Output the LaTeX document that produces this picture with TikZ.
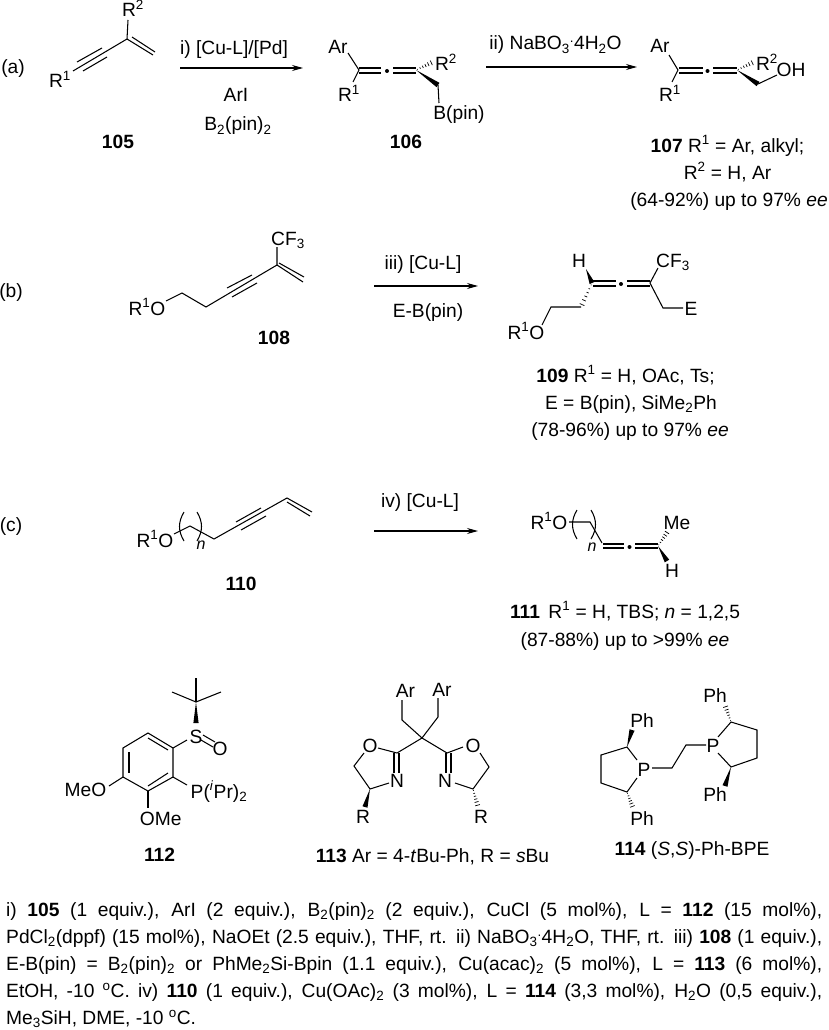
\documentclass[tikz,border=0pt]{standalone}
\usepackage{fontspec}
\setmainfont{Liberation Sans}
\usetikzlibrary{arrows.meta,calc}
\newcommand{\Up}[1]{\textsuperscript{#1}}
\newcommand{\Dn}[1]{\textsubscript{#1}}
\newcommand{\wedgebond}[2]{\fill ($(#1)$) -- ($(#2)!2.6pt!90:(#1)$) -- ($(#2)!2.6pt!-90:(#1)$) -- cycle;}
\newcommand{\hashbond}[2]{\foreach \t/\w in {0.08/0.4,0.24/0.8,0.4/1.2,0.56/1.6,0.72/2.0,0.9/2.5}
	\draw[line width=0.7pt] ($(#1)!\t!(#2)!\w pt!90:(#2)$) -- ($(#1)!\t!(#2)!\w pt!-90:(#2)$);}
\begin{document}
\begin{tikzpicture}[x=1pt,y=-1pt,
				bond/.style={line width=1.05pt},
				rxn/.style={line width=1.05pt,-{Stealth[length=11pt,width=6pt]}},
				lab/.style={anchor=base,inner sep=0pt,font=\fontsize{19.2}{22}\selectfont},
				note/.style={anchor=north west,inner sep=0pt,text width=816pt,align=justify,
					font=\fontsize{19.2}{27}\selectfont}]
			\useasboundingbox (0,0) rectangle (829,1030);
			% (a)
			\node [lab] (tagA) at (13,74) {(a)};
			\node [lab] (r1A) at (60,88) {R\Up{1}};
			\node [lab] (r2A) at (133,17) {R\Up{2}};
			\node [lab] (n105) at (118,149) {\textbf{105}};
			\coordinate (a1) at (73,71); \coordinate (a2) at (127,39); \coordinate (a3) at (128,20);
			\coordinate (a4) at (153,55); \coordinate (a5) at (132,37); \coordinate (a6) at (155,52);
			\coordinate (a7) at (77,62); \coordinate (a8) at (102,48); \coordinate (a9) at (83,71); \coordinate (a10) at (107,57);
			\draw [bond] (a1) -- (a2) -- (a3);
			\draw [bond] (a2) -- (a4);
			\draw [bond] (a5) -- (a6);
			\draw [bond] (a7) -- (a8);
			\draw [bond] (a9) -- (a10);
			\coordinate (arAs) at (180,68); \coordinate (arAe) at (303,68);
			\draw [rxn] (arAs) -- (arAe);
			\node [lab] (catA) at (234,55) {i) [Cu-L]/[Pd]};
			\node [lab] (ariA) at (236,102) {ArI};
			\node [lab] (bpinA) at (238,131) {B\Dn{2}(pin)\Dn{2}};
			% 106
			\node [lab] (ar6) at (338,54) {Ar};
			\node [lab] (r16) at (349,102) {R\Up{1}};
			\node [lab] (r26) at (446,71) {R\Up{2}};
			\node [lab] (bp6) at (459,120) {B(pin)};
			\node [lab] (n106) at (406,149) {\textbf{106}};
			\coordinate (b1) at (359,70); \coordinate (b2) at (348,53); \coordinate (b3) at (353,82);
			\coordinate (b4) at (359,68); \coordinate (b5) at (381,68); \coordinate (b6) at (359,73); \coordinate (b7) at (381,73);
			\coordinate (b8) at (393,68); \coordinate (b9) at (416,68); \coordinate (b10) at (393,73); \coordinate (b11) at (416,73);
			\coordinate (b12) at (416,70); \coordinate (b13) at (438,85); \coordinate (b14) at (439,103); \coordinate (b15) at (433,62);
			\draw [bond] (b2) -- (b1) -- (b3);
			\draw [bond] (b4) -- (b5);
			\draw [bond] (b6) -- (b7);
			\draw [bond] (b8) -- (b9);
			\draw [bond] (b10) -- (b11);
			\fill (387,71) circle (2pt);
			\wedgebond{b12}{b13}
			\hashbond{b12}{b15}
			\draw [bond] (b13) -- (b14);
			\coordinate (arBs) at (486,67); \coordinate (arBe) at (637,67);
			\draw [rxn] (arBs) -- (arBe);
			\node [lab] (catB) at (555.5,50) {ii) NaBO\Dn{3}\Up{.}4H\Dn{2}O};
			% 107
			\node [lab] (ar7) at (660,53) {Ar};
			\node [lab] (r17) at (670,102) {R\Up{1}};
			\node [lab] (r27) at (767,71) {R\Up{2}};
			\node [lab] (oh7) at (791,77) {OH};
			\coordinate (c1) at (678,70); \coordinate (c2) at (669,55); \coordinate (c3) at (672,82);
			\coordinate (c4) at (679,68); \coordinate (c5) at (703,68); \coordinate (c6) at (679,73); \coordinate (c7) at (703,73);
			\coordinate (c8) at (713,68); \coordinate (c9) at (737,68); \coordinate (c10) at (713,73); \coordinate (c11) at (737,73);
			\coordinate (c12) at (737,70); \coordinate (c13) at (758,84); \coordinate (c14) at (777,75); \coordinate (c15) at (754,62);
			\draw [bond] (c2) -- (c1) -- (c3);
			\draw [bond] (c4) -- (c5);
			\draw [bond] (c6) -- (c7);
			\draw [bond] (c8) -- (c9);
			\draw [bond] (c10) -- (c11);
			\fill (707.5,71) circle (2pt);
			\wedgebond{c12}{c13}
			\hashbond{c12}{c15}
			\draw [bond] (c13) -- (c14);
			\node [lab] (t7a) at (727.5,152) {\textbf{107} R\Up{1} = Ar, alkyl;};
			\node [lab] (t7b) at (727.5,179) {R\Up{2} = H, Ar};
			\node [lab] (t7c) at (729,206) {(64-92\%) up to 97\% \textit{ee}};
			% (b)
			\node [lab] (tagB) at (11,297) {(b)};
			\node [lab] (ro8) at (147,315) {R\Up{1}O};
			\node [lab] (cf8) at (288,245) {CF\Dn{3}};
			\node [lab] (n108) at (274,344) {\textbf{108}};
			\coordinate (d1) at (166,301); \coordinate (d2) at (182,293); \coordinate (d3) at (206,307); \coordinate (d4) at (277,265);
			\coordinate (d5) at (277,247); \coordinate (d6) at (303,282); \coordinate (d7) at (279,263); \coordinate (d8) at (304,277);
			\coordinate (d9) at (227,288); \coordinate (d10) at (252,275); \coordinate (d11) at (232,297); \coordinate (d12) at (257,283);
			\draw [bond] (d1) -- (d2) -- (d3) -- (d4) -- (d5);
			\draw [bond] (d4) -- (d6);
			\draw [bond] (d7) -- (d8);
			\draw [bond] (d9) -- (d10);
			\draw [bond] (d11) -- (d12);
			\coordinate (arCs) at (374,286); \coordinate (arCe) at (478,286);
			\draw [rxn] (arCs) -- (arCe);
			\node [lab] (catC) at (423,269) {iii) [Cu-L]};
			\node [lab] (ebC) at (428,317) {E-B(pin)};
			% 109
			\node [lab] (h9) at (579,267) {H};
			\node [lab] (cf9) at (673,267) {CF\Dn{3}};
			\node [lab] (e9) at (691,315) {E};
			\node [lab] (ro9) at (526,339) {R\Up{1}O};
			\coordinate (e1) at (592,283); \coordinate (e2) at (586,269); \coordinate (e3) at (581,307); \coordinate (e4) at (551,307); \coordinate (e5) at (542,325);
			\coordinate (e6) at (593,281); \coordinate (e7) at (616,281); \coordinate (e8) at (593,286); \coordinate (e9) at (616,286);
			\coordinate (e10) at (627,281); \coordinate (e11) at (650,281); \coordinate (e12) at (627,286); \coordinate (e13) at (650,286);
			\coordinate (e14) at (650,283); \coordinate (e15) at (658,268); \coordinate (e16) at (663,308); \coordinate (e17) at (683,308);
			\wedgebond{e2}{e1}
			\hashbond{e1}{e3}
			\draw [bond] (e3) -- (e4) -- (e5);
			\draw [bond] (e6) -- (e7);
			\draw [bond] (e8) -- (e9);
			\draw [bond] (e10) -- (e11);
			\draw [bond] (e12) -- (e13);
			\fill (621,284) circle (2pt);
			\draw [bond] (e15) -- (e14) -- (e16) -- (e17);
			\node [lab] (t9a) at (625.5,382) {\textbf{109} R\Up{1} = H, OAc, Ts;};
			\node [lab] (t9b) at (631,409) {E = B(pin), SiMe\Dn{2}Ph};
			\node [lab] (t9c) at (630,436) {(78-96\%) up to 97\% \textit{ee}};
			% (c)
			\node [lab] (tagC) at (11,531) {(c)};
			\node [lab] (ro10) at (155,547) {R\Up{1}O};
			\node [lab,font=\fontsize{16}{18}\itshape] (n10) at (201,549) {n};
			\node [lab] (n110) at (241,590) {\textbf{110}};
			\coordinate (f1) at (174,534); \coordinate (f2) at (190,526); \coordinate (f3) at (214,539); \coordinate (f4) at (287,498);
			\coordinate (f5) at (312,512); \coordinate (f6) at (287,502); \coordinate (f7) at (310,516);
			\coordinate (f8) at (236,522); \coordinate (f9) at (261,508); \coordinate (f10) at (241,530); \coordinate (f11) at (266,516);
			\coordinate (f12) at (184,512); \coordinate (f13) at (184,541); \coordinate (f14) at (197,512); \coordinate (f15) at (197,541);
			\draw [bond] (f1) -- (f2) -- (f3) -- (f4) -- (f5);
			\draw [bond] (f6) -- (f7);
			\draw [bond] (f8) -- (f9);
			\draw [bond] (f10) -- (f11);
			\draw [bond] (f12) .. controls (178,522) and (178,531) .. (f13);
			\draw [bond] (f14) .. controls (203,522) and (203,531) .. (f15);
			\coordinate (arDs) at (374,531); \coordinate (arDe) at (478,531);
			\draw [rxn] (arDs) -- (arDe);
			\node [lab] (catD) at (420,507) {iv) [Cu-L]};
			% 111
			\node [lab] (ro11) at (549,529) {R\Up{1}O};
			\node [lab,font=\fontsize{16}{18}\itshape] (n11) at (592,551) {n};
			\node [lab] (me11) at (677,529) {Me};
			\node [lab] (h11) at (672,577) {H};
			\coordinate (g1) at (569,522); \coordinate (g2) at (590,522); \coordinate (g3) at (602,543);
			\coordinate (g4) at (603,544); \coordinate (g5) at (624,544); \coordinate (g6) at (603,548); \coordinate (g7) at (624,548);
			\coordinate (g8) at (635,544); \coordinate (g9) at (658,544); \coordinate (g10) at (635,548); \coordinate (g11) at (658,548);
			\coordinate (g12) at (658,546); \coordinate (g13) at (667,561); \coordinate (g14) at (668,531);
			\coordinate (g15) at (577,510); \coordinate (g16) at (577,539); \coordinate (g17) at (591,510); \coordinate (g18) at (591,539);
			\draw [bond] (g1) -- (g2) -- (g3);
			\draw [bond] (g4) -- (g5);
			\draw [bond] (g6) -- (g7);
			\draw [bond] (g8) -- (g9);
			\draw [bond] (g10) -- (g11);
			\fill (629.5,547) circle (2pt);
			\wedgebond{g12}{g13}
			\hashbond{g12}{g14}
			\draw [bond] (g15) .. controls (571,520) and (571,529) .. (g16);
			\draw [bond] (g17) .. controls (597,520) and (597,529) .. (g18);
			\node [lab] (t11a) at (625,618) {\textbf{111}\, R\Up{1} = H, TBS; \textit{n} = 1,2,5};
			\node [lab] (t11b) at (625,646) {(87-88\%) up to >99\% \textit{ee}};
			% 112
			\node [lab] (s12) at (196,743) {S};
			\node [lab] (o12) at (220,755) {O};
			\node [lab] (p12) at (219,798) {P(\Up{\textit{i}}Pr)\Dn{2}};
			\node [lab] (meo12) at (85.5,796) {MeO};
			\node [lab] (ome12) at (160.7,825) {OMe};
			\node [lab] (n112) at (159.5,861) {\textbf{112}};
			\coordinate (h1) at (148,733); \coordinate (h2) at (173,748); \coordinate (h3) at (173,777);
			\coordinate (h4) at (148,791); \coordinate (h5) at (123,777); \coordinate (h6) at (123,748);
			\coordinate (h7) at (129,752); \coordinate (h8) at (129,773); \coordinate (h9) at (148,738); \coordinate (h10) at (168,750);
			\coordinate (h11) at (148,786); \coordinate (h12) at (168,773);
			\coordinate (h13) at (187,740); \coordinate (h14) at (196,723); \coordinate (h15) at (196,702);
			\coordinate (h16) at (196,678); \coordinate (h17) at (172,692); \coordinate (h18) at (221,692);
			\coordinate (h19) at (203,735); \coordinate (h20) at (215,742); \coordinate (h21) at (201,740); \coordinate (h22) at (213,747);
			\coordinate (h23) at (187,785); \coordinate (h24) at (109,786); \coordinate (h25) at (148,808);
			\draw [bond] (h1) -- (h2) -- (h3) -- (h4) -- (h5) -- (h6) -- cycle;
			\draw [bond] (h7) -- (h8);
			\draw [bond] (h9) -- (h10);
			\draw [bond] (h11) -- (h12);
			\draw [bond] (h2) -- (h13);
			\wedgebond{h15}{h14}
			\draw [bond] (h16) -- (h15);
			\draw [bond] (h17) -- (h15) -- (h18);
			\draw [bond] (h19) -- (h20);
			\draw [bond] (h21) -- (h22);
			\draw [bond] (h3) -- (h23);
			\draw [bond] (h5) -- (h24);
			\draw [bond] (h4) -- (h25);
			% 113
			\node [lab] (arl) at (405.5,697) {Ar};
			\node [lab] (arr) at (442,696) {Ar};
			\node [lab] (ol) at (370,752) {O};
			\node [lab] (nl) at (397,787) {N};
			\node [lab] (rl) at (363,823) {R};
			\node [lab] (or) at (473,752) {O};
			\node [lab] (nr) at (445,787) {N};
			\node [lab] (rr) at (481,823) {R};
			\node [lab] (n113) at (432.5,862) {\textbf{113} Ar = 4-\textit{t}Bu-Ph, R = \textit{s}Bu};
			\coordinate (i0) at (422,738); \coordinate (i1) at (402,700); \coordinate (i2) at (402,720); \coordinate (i3) at (438,698); \coordinate (i4) at (438,717);
			\coordinate (i5) at (397,753); \coordinate (i6) at (378,748); \coordinate (i7) at (364,753); \coordinate (i8) at (354,766);
			\coordinate (i9) at (370,789); \coordinate (i10) at (389,783); \coordinate (i11) at (365,807);
			\coordinate (i12) at (394,753); \coordinate (i13) at (394,773); \coordinate (i14) at (399,753); \coordinate (i15) at (399,773);
			\coordinate (i16) at (447,753); \coordinate (i17) at (463,747); \coordinate (i18) at (480,753); \coordinate (i19) at (489,767);
			\coordinate (i20) at (473,789); \coordinate (i21) at (455,783); \coordinate (i22) at (478,807);
			\coordinate (i23) at (446,753); \coordinate (i24) at (446,773); \coordinate (i25) at (451,753); \coordinate (i26) at (451,773);
			\draw [bond] (i1) -- (i2) -- (i0) -- (i4) -- (i3);
			\draw [bond] (i6) -- (i5) -- (i0) -- (i16) -- (i17);
			\draw [bond] (i7) -- (i8) -- (i9) -- (i10);
			\draw [bond] (i12) -- (i13);
			\draw [bond] (i14) -- (i15);
			\wedgebond{i9}{i11}
			\draw [bond] (i18) -- (i19) -- (i20) -- (i21);
			\draw [bond] (i23) -- (i24);
			\draw [bond] (i25) -- (i26);
			\hashbond{i20}{i22}
			% 114
			\node [lab] (phlt) at (642,727) {Ph};
			\node [lab] (pl) at (644,776) {P};
			\node [lab] (phlb) at (642,825) {Ph};
			\node [lab] (phrt) at (715,702) {Ph};
			\node [lab] (pr) at (713,752) {P};
			\node [lab] (phrb) at (715,801) {Ph};
			\node [lab] (n114) at (692,855) {\textbf{114} (\textit{S},\textit{S})-Ph-BPE};
			\coordinate (j1) at (627,747); \coordinate (j2) at (601,755); \coordinate (j3) at (601,783); \coordinate (j4) at (627,792);
			\coordinate (j5) at (637,760); \coordinate (j6) at (637,778); \coordinate (j7) at (632,730); \coordinate (j8) at (633,808);
			\coordinate (j9) at (652,768); \coordinate (j10) at (672,768); \coordinate (j11) at (686,745); \coordinate (j12) at (706,745);
			\coordinate (j13) at (731,722); \coordinate (j14) at (757,730); \coordinate (j15) at (757,758); \coordinate (j16) at (731,767);
			\coordinate (j17) at (718,737); \coordinate (j18) at (718,753); \coordinate (j19) at (725,705); \coordinate (j20) at (725,786);
			\draw [bond] (j5) -- (j1) -- (j2) -- (j3) -- (j4) -- (j6);
			\wedgebond{j1}{j7}
			\hashbond{j4}{j8}
			\draw [bond] (j9) -- (j10) -- (j11) -- (j12);
			\draw [bond] (j17) -- (j13) -- (j14) -- (j15) -- (j16) -- (j18);
			\hashbond{j13}{j19}
			\wedgebond{j16}{j20}
			% conditions
			\node [note] (cond) at (6,902.5) {i) \textbf{105} (1 equiv.), ArI (2 equiv.), B\Dn{2}(pin)\Dn{2} (2 equiv.), CuCl (5 mol\%), L = \textbf{112} (15 mol\%),\linebreak
				PdCl\Dn{2}(dppf) (15 mol\%), NaOEt (2.5 equiv.), THF, rt. ii) NaBO\Dn{3}\Up{.}4H\Dn{2}O, THF, rt. iii) \textbf{108} (1 equiv.),\linebreak
				E-B(pin) = B\Dn{2}(pin)\Dn{2} or PhMe\Dn{2}Si-Bpin (1.1 equiv.), Cu(acac)\Dn{2} (5 mol\%), L = \textbf{113} (6 mol\%),\linebreak
				EtOH, -10 \Up{o}C. iv) \textbf{110} (1 equiv.), Cu(OAc)\Dn{2} (3 mol\%), L = \textbf{114} (3,3 mol\%), H\Dn{2}O (0,5 equiv.),\linebreak
				Me\Dn{3}SiH, DME, -10 \Up{o}C.};
		\end{tikzpicture}
\end{document}
